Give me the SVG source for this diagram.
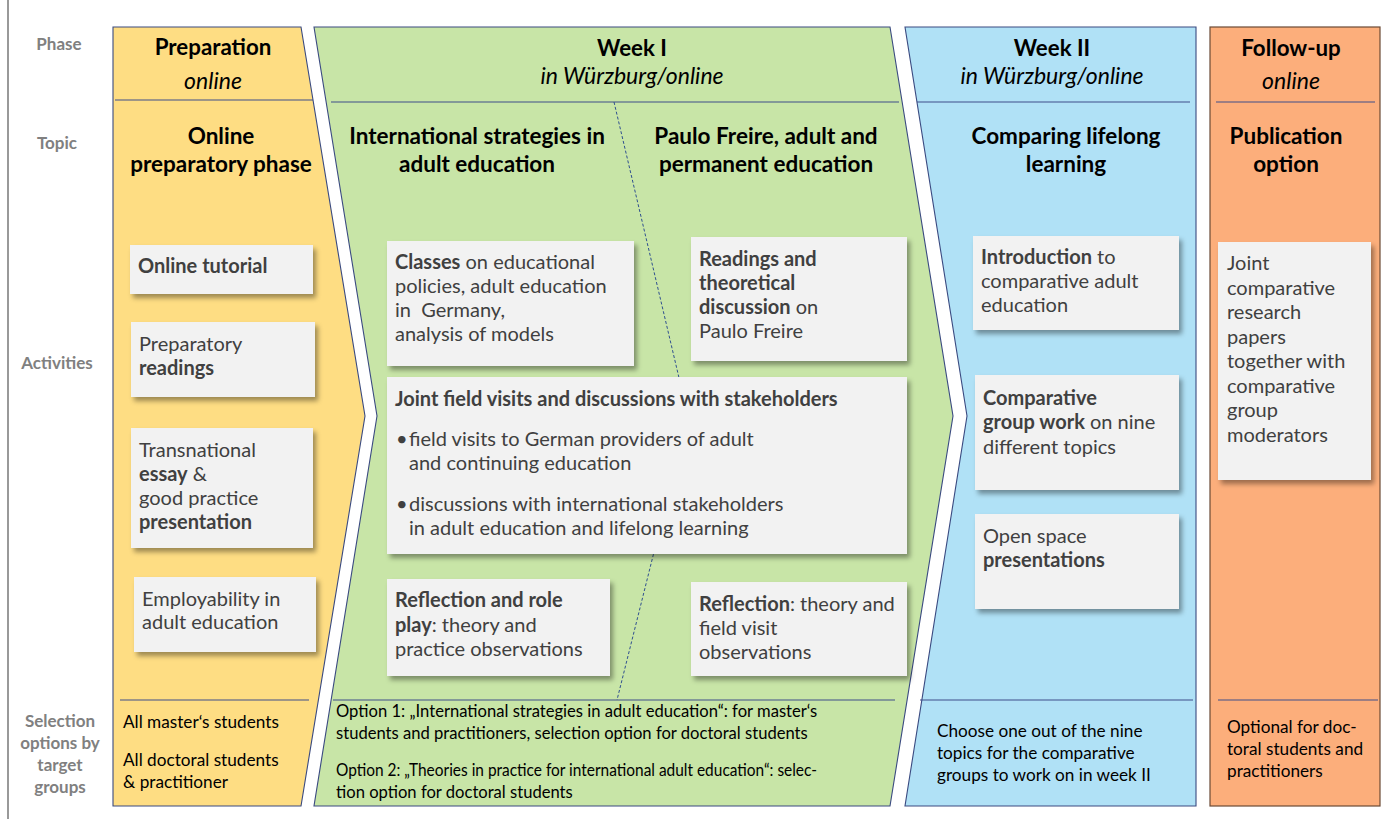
<svg xmlns="http://www.w3.org/2000/svg" width="1394" height="819" viewBox="0 0 1394 819">
<defs>
<filter id="sh" x="-10%" y="-10%" width="130%" height="130%">
<feDropShadow dx="3" dy="4" stdDeviation="2.5" flood-color="#000" flood-opacity="0.38"/>
</filter>
<style>
text{font-family:Lato,"Liberation Sans",sans-serif;}
.lbl{font-size:17px;font-weight:bold;fill:#808080;text-anchor:middle;}
.ph{font-size:22.3px;font-weight:bold;fill:#000;text-anchor:middle;}
.it{font-size:23px;font-style:italic;fill:#000;text-anchor:middle;}
.tp{font-size:22.5px;font-weight:bold;fill:#000;text-anchor:middle;}
.bx{fill:#f2f2f2;filter:url(#sh);}
.t{font-size:20px;fill:#404040;}
.b{font-weight:bold;}
.s{font-size:17.2px;fill:#000;}
.o{font-size:16.6px;}
.sep{stroke:#3f4f8a;stroke-width:1.2;}
.col{stroke:#3a4a80;stroke-width:1.1;}
</style>
</defs>
<rect width="1394" height="819" fill="#fff"/>
<line x1="8" y1="0" x2="8" y2="819" stroke="#555" stroke-width="1.2"/>

<g id="labels">
<text class="lbl" x="59" y="50">Phase</text>
<text class="lbl" x="57" y="149">Topic</text>
<text class="lbl" x="57" y="369">Activities</text>
<text class="lbl" x="60" y="727">Selection</text>
<text class="lbl" x="60" y="749">options by</text>
<text class="lbl" x="60" y="771">target</text>
<text class="lbl" x="60" y="793">groups</text>
</g>

<g id="col-preparation">
<polygon class="col" points="113,27 301,27 365,416 301,806 113,806" fill="#fedd83"/>
<line class="sep" x1="115" y1="100" x2="313" y2="100"/>
<line class="sep" x1="120" y1="700" x2="309" y2="700"/>
<text class="ph" x="213" y="55">Preparation</text>
<text class="it" x="213" y="89">online</text>
<text class="tp" x="221" y="144">Online</text>
<text class="tp" x="221" y="172">preparatory phase</text>
<text class="s" x="123" y="728">All master‘s students</text>
<text class="s" x="123" y="766">All doctoral students</text>
<text class="s" x="123" y="788">&amp; practitioner</text>
</g>

<g id="col-week1">
<polygon class="col" points="314,27 890,27 953,416 890,806 314,806 377,416" fill="#c8e5a7"/>
<line class="sep" x1="331" y1="102" x2="899" y2="102"/>
<line class="sep" x1="333" y1="700" x2="895" y2="700"/>
<text class="ph" x="632" y="56">Week I</text>
<text class="it" x="632" y="84">in Würzburg/online</text>
<text class="tp" x="477" y="144">International strategies in</text>
<text class="tp" x="477" y="172">adult education</text>
<text class="tp" x="766" y="144">Paulo Freire, adult and</text>
<text class="tp" x="766" y="172">permanent education</text>
<text class="s o" x="336" y="717">Option 1: „International strategies in adult education“: for master‘s</text>
<text class="s o" x="336" y="739">students and practitioners, selection option for doctoral students</text>
<text class="s o" x="336" y="776" textLength="481" lengthAdjust="spacingAndGlyphs">Option 2: „Theories in practice for international adult education“: selec-</text>
<text class="s o" x="336" y="798">tion option for doctoral students</text>
</g>

<g id="col-week2">
<polygon class="col" points="905,27 1196,27 1196,806 905,806 967,416" fill="#b0e1f6"/>
<line class="sep" x1="917" y1="102" x2="1190" y2="102"/>
<line class="sep" x1="920" y1="700" x2="1193" y2="700"/>
<text class="ph" x="1052" y="56">Week II</text>
<text class="it" x="1052" y="84">in Würzburg/online</text>
<text class="tp" x="1066" y="144">Comparing lifelong</text>
<text class="tp" x="1066" y="172">learning</text>
<text class="s" x="937" y="737">Choose one out of the nine</text>
<text class="s" x="937" y="759">topics for the comparative</text>
<text class="s" x="937" y="781">groups to work on in week II</text>
</g>

<g id="col-followup">
<rect x="1210" y="27" width="170" height="779" fill="#fcae7b" stroke="#6b4a35" stroke-width="1.2"/>
<line class="sep" x1="1216" y1="102" x2="1375" y2="102"/>
<line class="sep" x1="1218" y1="700" x2="1378" y2="700"/>
<text class="ph" x="1291" y="56">Follow-up</text>
<text class="it" x="1291" y="89">online</text>
<text class="tp" x="1286" y="144">Publication</text>
<text class="tp" x="1286" y="172">option</text>
<text class="s" x="1227" y="733">Optional for doc-</text>
<text class="s" x="1227" y="755">toral students and</text>
<text class="s" x="1227" y="777">practitioners</text>
</g>

<g id="connectors">
<polyline points="614,102 688,416 617,700" fill="none" stroke="#2f4f8f" stroke-width="1" stroke-dasharray="3,2"/>
</g>

<g id="online-tutorial">
<rect class="bx" x="130" y="245" width="183" height="49"/>
<text class="t b" x="138" y="273">Online tutorial</text>
</g>
<g id="preparatory-readings">
<rect class="bx" x="131" y="322" width="184" height="75"/>
<text class="t" x="139" y="351">Preparatory</text>
<text class="t b" x="139" y="375">readings</text>
</g>
<g id="transnational-essay">
<rect class="bx" x="131" y="428" width="182" height="120"/>
<text class="t" x="139" y="457">Transnational</text>
<text class="t" x="139" y="481"><tspan class="b">essay</tspan> &amp;</text>
<text class="t" x="139" y="505">good practice</text>
<text class="t b" x="139" y="529">presentation</text>
</g>
<g id="employability">
<rect class="bx" x="134" y="577" width="182" height="75"/>
<text class="t" x="142" y="606">Employability in</text>
<text class="t" x="142" y="629">adult education</text>
</g>

<g id="classes">
<rect class="bx" x="387" y="241" width="247" height="125"/>
<text class="t" x="395" y="269"><tspan class="b">Classes</tspan> on educational</text>
<text class="t" x="395" y="293">policies, adult education</text>
<text class="t" x="395" y="317" xml:space="preserve">in  Germany,</text>
<text class="t" x="395" y="341">analysis of models</text>
</g>
<g id="readings-freire">
<rect class="bx" x="691" y="237" width="216" height="124"/>
<text class="t b" x="699" y="266">Readings and</text>
<text class="t b" x="699" y="290">theoretical</text>
<text class="t" x="699" y="314"><tspan class="b">discussion</tspan> on</text>
<text class="t" x="699" y="338">Paulo Freire</text>
</g>
<g id="joint-field-visits">
<rect class="bx" x="387" y="377" width="520" height="177"/>
<text class="t b" x="395" y="406">Joint field visits and discussions with stakeholders</text>
<text class="t" x="396" y="446">•</text>
<text class="t" x="409" y="446">field visits to German providers of adult</text>
<text class="t" x="409" y="470">and continuing education</text>
<text class="t" x="396" y="511">•</text>
<text class="t" x="409" y="511">discussions with international stakeholders</text>
<text class="t" x="409" y="535">in adult education and lifelong learning</text>
</g>
<g id="reflection-role-play">
<rect class="bx" x="387" y="579" width="223" height="97"/>
<text class="t b" x="395" y="607">Reflection and role</text>
<text class="t" x="395" y="632"><tspan class="b">play</tspan>: theory and</text>
<text class="t" x="395" y="656">practice observations</text>
</g>
<g id="reflection-field">
<rect class="bx" x="691" y="582" width="216" height="94"/>
<text class="t" x="699" y="611"><tspan class="b">Reflection</tspan>: theory and</text>
<text class="t" x="699" y="635">field visit</text>
<text class="t" x="699" y="659">observations</text>
</g>

<g id="introduction">
<rect class="bx" x="973" y="236" width="206" height="94"/>
<text class="t" x="981" y="264"><tspan class="b">Introduction</tspan> to</text>
<text class="t" x="981" y="288">comparative adult</text>
<text class="t" x="981" y="312">education</text>
</g>
<g id="comparative-group-work">
<rect class="bx" x="975" y="375" width="204" height="115"/>
<text class="t b" x="983" y="405">Comparative</text>
<text class="t" x="983" y="429"><tspan class="b">group work</tspan> on nine</text>
<text class="t" x="983" y="454">different topics</text>
</g>
<g id="open-space">
<rect class="bx" x="975" y="514" width="204" height="95"/>
<text class="t" x="983" y="543">Open space</text>
<text class="t b" x="983" y="567">presentations</text>
</g>

<g id="joint-papers">
<rect class="bx" x="1218" y="242" width="153" height="238"/>
<text class="t" x="1227" y="270">Joint</text>
<text class="t" x="1227" y="295">comparative</text>
<text class="t" x="1227" y="319">research</text>
<text class="t" x="1227" y="344">papers</text>
<text class="t" x="1227" y="368">together with</text>
<text class="t" x="1227" y="393">comparative</text>
<text class="t" x="1227" y="417">group</text>
<text class="t" x="1227" y="442">moderators</text>
</g>
</svg>
